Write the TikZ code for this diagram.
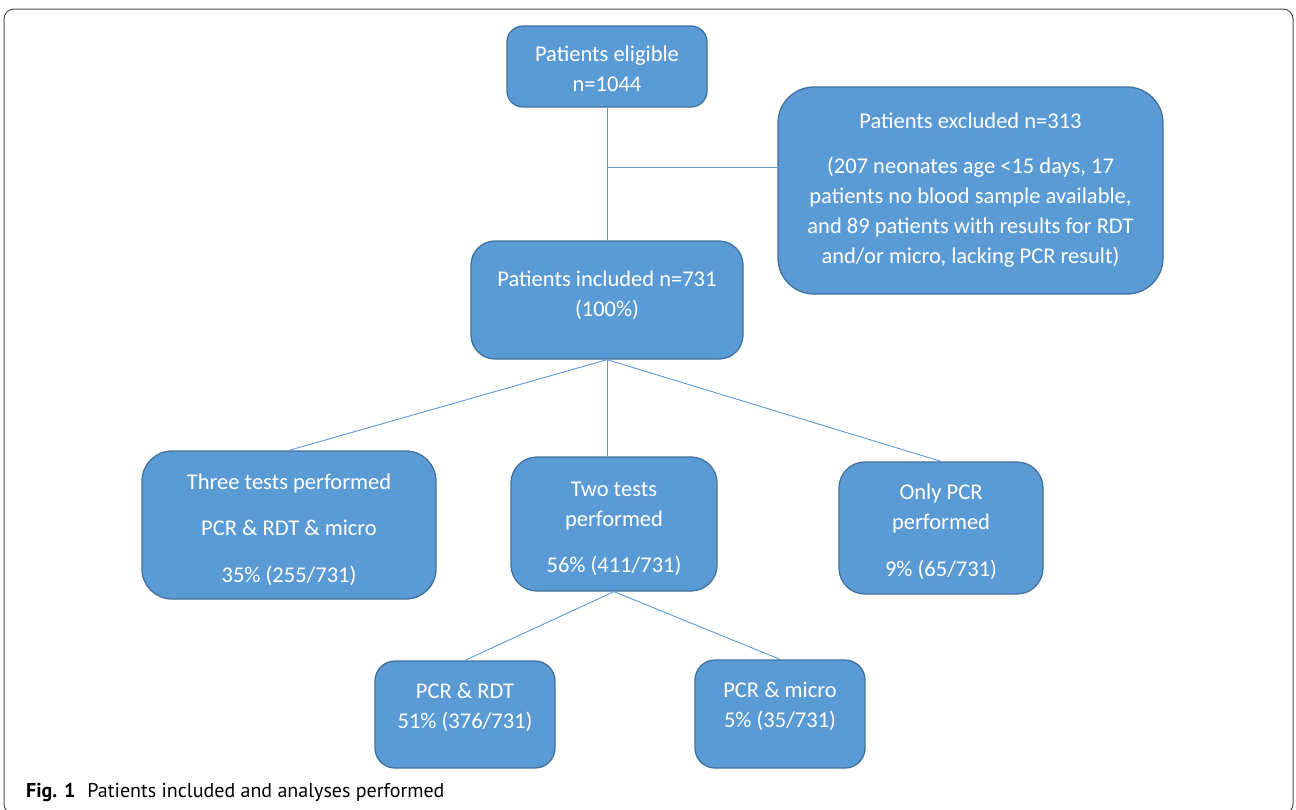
\documentclass[tikz,border=0pt]{standalone}
\usepackage{fontspec}
\setmainfont{Carlito}
\newfontfamily\capfont{PT Sans}
\usetikzlibrary{positioning}
\definecolor{boxblue}{HTML}{5B9BD5}
\definecolor{boxedge}{HTML}{41719C}
\definecolor{framegray}{HTML}{505050}
\newcommand\topgap[1]{\rule{0pt}{#1}}

\begin{document}
\begin{tikzpicture}[x=1pt,y=-1pt,
        box/.style={draw=boxedge,fill=boxblue,line width=1.3pt,text=white,align=center,
            inner sep=0pt,rounded corners=16pt,font=\fontsize{22.5}{30}\selectfont},
        link/.style={draw=boxblue,line width=0.9pt}]
    \useasboundingbox (0,0) rectangle (1296,809);
    \draw[framegray,line width=1pt,rounded corners=10pt] (4,9) rectangle (1293,814);

    \node[box,minimum width=200pt,minimum height=81pt] (elig) at (607,66.5) {\topgap{21pt}Patients eligible\\n=1044};
    \node[box,minimum width=385pt,minimum height=207pt,rounded corners=36pt] (excl) at (970.5,190.5)
        {Patients excluded n=313\\[15pt](207 neonates age <15 days, 17\\patients no blood sample available,\\and 89 patients with results for RDT\\and/or micro, lacking PCR result)};
    \node[box,minimum width=272pt,minimum height=118pt,rounded corners=24pt,text depth=18pt] (incl) at (607,300)
        {\topgap{20pt}Patients included n=731\\(100\%)};

    \node[box,minimum width=294pt,minimum height=148pt,rounded corners=30pt] (three) at (289,525)
        {\topgap{26pt}Three tests performed\\[16pt]PCR \& RDT \& micro\\[17pt]35\% (255/731)};
    \node[box,minimum width=206pt,minimum height=134pt,rounded corners=26pt] (two) at (614,524)
        {\topgap{24pt}Two tests\\performed\\[16pt]56\% (411/731)};
    \node[box,minimum width=204pt,minimum height=132pt,rounded corners=26pt] (only) at (941,528)
        {\topgap{24pt}Only PCR\\performed\\[17pt]9\% (65/731)};

    \node[box,minimum width=180pt,minimum height=107pt,rounded corners=20pt,text depth=17pt] (rdt) at (465,714.5)
        {PCR \& RDT\\51\% (376/731)};
    \node[box,minimum width=170pt,minimum height=108pt,rounded corners=20pt,text depth=18pt] (micro) at (780,714)
        {PCR \& micro\\5\% (35/731)};

    % connectors
    \path (elig.south) -- (incl.north) coordinate[pos=0.45] (split);
    \draw[link] (elig) -- (incl);
    \draw[link] (split) -- (split -| excl.west);
    \draw[link] (incl.south) -- (three.north);
    \draw[link] (incl.south) -- (incl.south |- two.north);
    \draw[link] (incl.south) -- (only.north);
    \draw[link] (two.south) -- (rdt.north);
    \draw[link] (two.south) -- (micro.north);

    \node[anchor=base west,inner sep=0pt,font=\capfont\fontsize{20}{22}\selectfont] (caption) at (26,797)
        {\textbf{Fig. 1}\hspace{0.6em}Patients included and analyses performed};
\end{tikzpicture}
\end{document}
